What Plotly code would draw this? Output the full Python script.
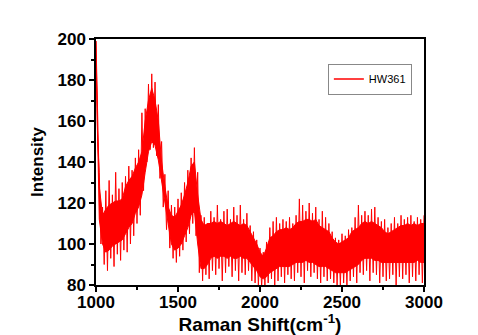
import plotly.graph_objects as go

# ---- data (Raman spectrum, sample HW361) ----
# x positions of the readings: every 20 cm-1
x_grid = list(range(1000, 3001, 20))

# dense core of the noise band (upper / lower edge), every 20 cm-1
core_hi = [199, 128, 114, 117, 119, 120, 121, 121, 122, 128,
           131, 133, 137, 140, 145, 160, 170, 176, 170, 160,
           140, 128, 118, 114, 113, 116, 119, 124, 130, 138,
           140, 124, 112, 109, 110, 110, 111, 110, 111, 110,
           109, 110, 111, 110, 109, 110, 109, 106, 103, 100,
           96, 94, 98, 103, 104, 106, 107, 107, 108, 107,
           108, 110, 111, 111, 112, 112, 111, 112, 109, 108,
           107, 106, 103, 101, 100, 101, 102, 103, 106, 107,
           108, 110, 111, 110, 111, 110, 109, 108, 106, 105,
           106, 107, 108, 109, 109, 110, 109, 110, 109, 110,
           110]
core_lo = [192, 112, 100, 96, 97, 99, 100, 101, 102, 105,
           108, 110, 115, 118, 124, 135, 145, 150, 148, 141,
           130, 120, 110, 100, 97, 98, 100, 104, 108, 114,
           116, 100, 88, 88, 90, 93, 94, 93, 94, 94,
           93, 94, 93, 93, 94, 93, 93, 91, 89, 87,
           84, 83, 84, 86, 87, 88, 89, 89, 89, 89,
           90, 91, 91, 91, 92, 91, 91, 90, 89, 89,
           89, 88, 87, 86, 86, 86, 86, 87, 88, 89,
           90, 92, 93, 93, 93, 92, 92, 91, 91, 91,
           91, 91, 91, 91, 91, 91, 91, 91, 92, 91,
           91]

# spike maxima, every 20 cm-1 from 1000 to 3000
x_upper = list(range(1000, 3001, 20))
upper = [199, 135, 118, 126, 131, 124, 135, 127, 130, 133,
         138, 136, 142, 146, 164, 166, 178, 183, 179, 168,
         150, 134, 126, 119, 118, 122, 125, 130, 136, 142,
         147, 135, 114, 113, 110, 116, 113, 119, 112, 116,
         117, 112, 118, 114, 119, 112, 115, 109, 106, 102,
         98, 96, 101, 108, 111, 113, 110, 112, 111, 113,
         110, 114, 122, 119, 116, 120, 115, 118, 112, 116,
         113, 110, 106, 103, 102, 105, 104, 107, 108, 113,
         119, 114, 116, 114, 117, 118, 113, 111, 112, 108,
         110, 113, 110, 114, 112, 113, 114, 111, 113, 112,
         114]

# spike minima, every 20 cm-1 from 1010 to 2990
x_lower = list(range(1010, 3000, 20))
lower = [150, 100, 90, 87, 93, 89, 95, 92, 97, 96,
         100, 104, 110, 114, 126, 140, 146, 147, 143, 132,
         118, 107, 98, 93, 91, 94, 97, 101, 105, 110,
         104, 86, 82, 85, 83, 87, 85, 88, 82, 86,
         89, 84, 87, 82, 86, 85, 87, 82, 81, 80,
         79, 80, 81, 83, 80, 82, 84, 81, 85, 83,
         82, 86, 84, 81, 87, 84, 86, 83, 81, 84,
         82, 83, 81, 80, 80, 81, 80, 82, 84, 81,
         86, 85, 87, 82, 86, 85, 81, 84, 82, 83,
         85, 80, 84, 83, 85, 81, 84, 82, 85, 81]

series_name = "HW361"
x_ticks = [1000, 1500, 2000, 2500, 3000]
y_ticks = [80, 100, 120, 140, 160, 180, 200]

RED = "#ff0000"
font_family = "Liberation Sans, Arial, sans-serif"

# interleave spike maxima / minima into one zig-zag trace
xs, ys = [], []
for i in range(len(x_upper)):
    xs.append(x_upper[i]); ys.append(upper[i])
    if i < len(x_lower):
        xs.append(x_lower[i]); ys.append(lower[i])

fig = go.Figure()
fig.add_trace(go.Scatter(x=x_grid, y=core_lo, mode="lines", showlegend=False,
                         line=dict(color=RED, width=1), hoverinfo="skip"))
fig.add_trace(go.Scatter(x=x_grid, y=core_hi, mode="lines", showlegend=False,
                         fill="tonexty", fillcolor=RED,
                         line=dict(color=RED, width=1), hoverinfo="skip"))
fig.add_trace(go.Scatter(x=xs, y=ys, mode="lines", name=series_name, showlegend=False,
                         legendgroup="s", line=dict(color=RED, width=1)))
# legend entry for the series (no marks of its own)
fig.add_trace(go.Scatter(x=[None], y=[None], mode="lines", name=series_name,
                         legendgroup="s", line=dict(color=RED, width=1.5)))

axis_common = dict(showline=True, linecolor="black", linewidth=1.5, mirror=True,
                   ticks="outside", ticklen=5, tickwidth=1.5, tickcolor="black",
                   showgrid=False, zeroline=False, automargin=False,
                   tickfont=dict(family=font_family, size=17, color="black", weight="bold"))

fig.update_layout(
    width=470, height=327,
    margin=dict(l=88, r=54, t=31, b=50),
    paper_bgcolor="white", plot_bgcolor="white",
    xaxis=dict(range=[1000, 3000], tickvals=x_ticks,
               ticktext=[str(v) for v in x_ticks], ticklabelstandoff=-4,
               minor=dict(dtick=250, ticks="outside", ticklen=3, tickwidth=1.5, tickcolor="black"),
               title=dict(text="Raman Shift(cm<sup>-1</sup>)", standoff=2,
                          font=dict(family=font_family, size=19, color="black", weight="bold")),
               **axis_common),
    yaxis=dict(range=[80, 200], tickvals=y_ticks,
               ticktext=[str(v) for v in y_ticks],
               minor=dict(dtick=10, ticks="outside", ticklen=3, tickwidth=1.5, tickcolor="black"),
               title=dict(text="Intensity", standoff=10,
                          font=dict(family=font_family, size=17, color="black", weight="bold")),
               **axis_common),
    showlegend=True,
    legend=dict(x=0.963, y=0.90, xanchor="right", yanchor="top",
                bgcolor="white", bordercolor="#888888", borderwidth=1,
                font=dict(family=font_family, size=11, color="black"),
                itemwidth=30, tracegroupgap=0),
)

fig.write_html("out.html")
